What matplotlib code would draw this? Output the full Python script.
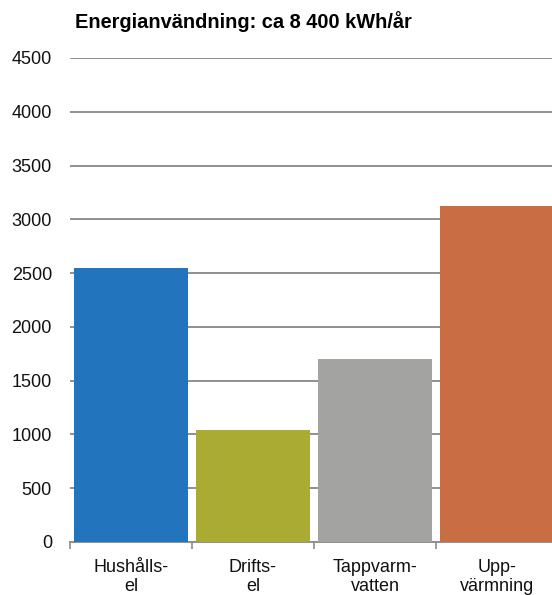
import matplotlib.pyplot as plt
from matplotlib.ticker import FixedLocator

plt.rcParams['font.family'] = ['Liberation Sans', 'DejaVu Sans']

# energianvändning per post, kWh/år
kategorier = ["Hushålls-\nel", "Drifts-\nel", "Tappvarm-\nvatten", "Upp-\nvärmning"]
varden = [2550, 1040, 1700, 3120]
farger = ["#2275BC", "#AAAB32", "#A3A3A1", "#C96D45"]
yticks = list(range(0, 5000, 500))

fig = plt.figure(figsize=(5.52, 5.95), dpi=100)
ax = fig.add_axes([70 / 552, 53 / 595, 488 / 552, 484 / 595])

x = list(range(len(kategorier)))
ax.bar(x, varden, width=0.94, color=farger, zorder=3)

ax.set_xlim(-0.5, len(kategorier) - 0.5)
ax.set_ylim(0, 4500)
ax.set_yticks(yticks)
ax.set_yticklabels([str(v) for v in yticks], fontsize=13, color="#111111")
ax.tick_params(axis="y", length=0, pad=13)

ax.set_xticks(x)
ax.set_xticklabels(kategorier, fontsize=13, color="#111111", linespacing=1.15)
ax.tick_params(axis="x", which="major", length=0, pad=12)
ax.xaxis.set_minor_locator(FixedLocator([i - 0.5 for i in range(len(kategorier) + 1)]))
ax.tick_params(axis="x", which="minor", length=5, width=1.2, color="#8C8C8C")

ax.grid(axis="y", color="#8F8F8F", linewidth=1.4, zorder=0)
for s in ["top", "right", "left"]:
    ax.spines[s].set_visible(False)
ax.spines["bottom"].set_color("#8F8F8F")
ax.spines["bottom"].set_linewidth(1.4)

fig.text(75 / 552, 1 - 22 / 595, "Energianvändning: ca 8 400 kWh/år",
         fontsize=14.4, fontweight="bold", va="center", ha="left")

fig.savefig("out.png", dpi=100)
